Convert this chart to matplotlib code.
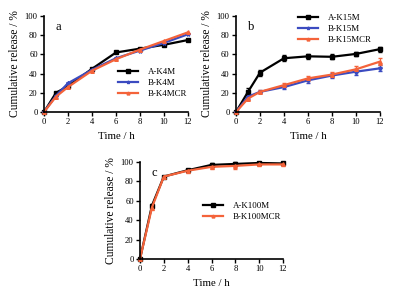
import numpy as np
import matplotlib.pyplot as plt

plt.rcParams['font.family'] = 'Liberation Serif'

t = [0, 1, 2, 4, 6, 8, 10, 12]

# panel a
a_k4m = [0, 20, 27, 45, 62, 66, 70, 75]
b_k4m = [0, 17, 30, 44, 56, 64, 72, 81]
b_k4mcr = [0, 16, 26, 43, 55, 65, 74, 83]

# panel b
a_k15m = [0, 21, 41, 56, 58, 57.5, 60.5, 65.5]
a_k15m_err = [0, 4, 3, 3, 2.5, 2.5, 2.5, 2.5]
b_k15m = [0, 16, 21, 26, 33, 38, 42, 45.5]
b_k15m_err = [0, 2, 1.5, 2, 2.5, 2.5, 3, 3]
b_k15mcr = [0, 14, 21, 28, 35, 39, 44.5, 52.5]
b_k15mcr_err = [0, 2, 1.5, 2, 3, 2.5, 3, 4]

# panel c
a_k100m = [0, 55, 85, 91.5, 97, 98, 99, 98.5]
a_k100m_err = [0, 2, 1, 1.5, 1.5, 1.5, 1, 1]
b_k100mcr = [0, 53, 85, 91, 95, 96, 97.5, 97.5]
b_k100mcr_err = [0, 2, 1, 2, 2, 3, 2, 1.5]

BLACK = '#000000'
BLUE = '#3b4bc0'
ORANGE = '#f4633a'

W, H = 396, 294
fig = plt.figure(figsize=(W / 100, H / 100), dpi=100)


def make_ax(l, r, top, bot):
    return fig.add_axes([l / W, 1 - bot / H, (r - l) / W, (bot - top) / H])


def style(ax, letter):
    ax.set_xlim(0, 12)
    ax.set_ylim(0, 100)
    ax.set_xticks(range(0, 13, 2))
    ax.set_yticks(range(0, 101, 20))
    for s in ['top', 'right']:
        ax.spines[s].set_visible(False)
    for s in ['left', 'bottom']:
        ax.spines[s].set_linewidth(1.2)
    ax.tick_params(direction='out', width=1.0, length=3, labelsize=6.2, pad=1.5)
    ax.set_xlabel('Time / h', fontsize=7.8, labelpad=4)
    ax.set_ylabel('Cumulative release / %', fontsize=8.3, labelpad=3)
    ax.text(0.08, 0.95, letter, transform=ax.transAxes, fontsize=9, va='top')
    for sp in ax.spines.values():
        sp.set_clip_on(False)


def series(ax, y, err, color, marker, label, ms=3.0):
    ax.errorbar(t, y, yerr=err, color=color, marker=marker, ms=ms, lw=1.6,
                capsize=1.5, elinewidth=0.8, clip_on=False)
    ax.plot([], [], color=color, marker=marker, ms=ms * 0.8, lw=1.6, label=label)


def legend(ax, x, y):
    ax.legend(loc='upper left', bbox_to_anchor=(x / W, 1 - y / H),
              bbox_transform=fig.transFigure, fontsize=6.4, frameon=False,
              handlelength=2.3, handletextpad=1.1, labelspacing=0.3,
              borderpad=0, borderaxespad=0)


ax1 = make_ax(44, 188, 16, 112)
series(ax1, a_k4m, None, BLACK, 's', 'A-K4M')
series(ax1, b_k4m, None, BLUE, '*', 'B-K4M')
series(ax1, b_k4mcr, None, ORANGE, '^', 'B-K4MCR', ms=2.6)
style(ax1, 'a')
legend(ax1, 118, 68)

ax2 = make_ax(236, 380, 16, 112)
series(ax2, a_k15m, a_k15m_err, BLACK, 's', 'A-K15M')
series(ax2, b_k15m, b_k15m_err, BLUE, '*', 'B-K15M')
series(ax2, b_k15mcr, b_k15mcr_err, ORANGE, '^', 'B-K15MCR', ms=2.6)
style(ax2, 'b')
legend(ax2, 298, 14)

ax3 = make_ax(140, 283, 162, 259)
series(ax3, a_k100m, a_k100m_err, BLACK, 's', 'A-K100M')
series(ax3, b_k100mcr, b_k100mcr_err, ORANGE, '^', 'B-K100MCR', ms=2.6)
style(ax3, 'c')
legend(ax3, 203, 202)

fig.savefig('out.png', dpi=100)
